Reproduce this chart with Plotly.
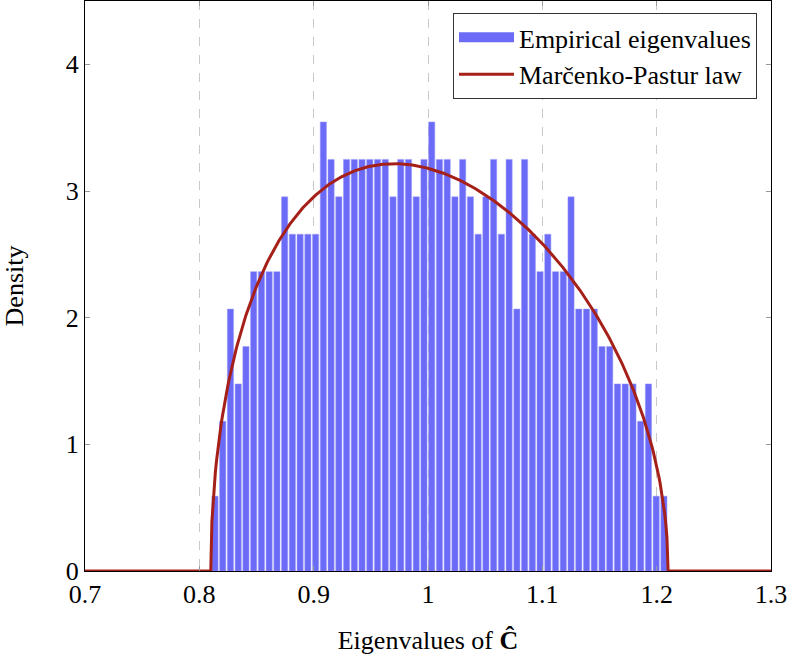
import numpy as np
import plotly.graph_objects as go

# ---- data ----
n_eigs = 500
bin_start = 0.8103
bin_width = 0.00677
bin_counts = [2, 4, 7, 5, 6, 8, 8, 8, 8, 10,
              9, 9, 9, 9, 12, 11, 10, 11, 11, 11,
              11, 11, 11, 10, 11, 11, 10, 11, 12, 11,
              11, 10, 11, 10, 9, 10, 11, 9, 11, 7,
              11, 9, 8, 9, 8, 8, 10, 7, 7, 7,
              6, 6, 5, 5, 5, 4, 5, 2, 2]
mp_ratio = 0.01          # c = p/n for Marcenko-Pastur law
x_ticks = [0.7, 0.8, 0.9, 1.0, 1.1, 1.2, 1.3]
x_tick_labels = ["0.7", "0.8", "0.9", "1", "1.1", "1.2", "1.3"]
y_ticks = [0, 1, 2, 3, 4]
y_tick_labels = ["0", "1", "2", "3", "4"]

centers = [bin_start + (i + 0.5) * bin_width for i in range(len(bin_counts))]
density = [c / (n_eigs * bin_width) for c in bin_counts]

# Marcenko-Pastur density
a = (1 - np.sqrt(mp_ratio)) ** 2
b = (1 + np.sqrt(mp_ratio)) ** 2
xin = np.linspace(a, b, 400)
yin = np.sqrt(np.clip((b - xin) * (xin - a), 0, None)) / (2 * np.pi * mp_ratio * xin)
xs = np.concatenate([[0.7, a - 0.002], xin, [b + 0.002, 1.3]])
ys = np.concatenate([[0, 0], yin, [0, 0]])

font_family = "Liberation Serif"
bar_color = "#6b6bf8"

fig = go.Figure()
fig.add_trace(go.Bar(
    x=centers, y=density, width=bin_width * 0.8,
    marker=dict(color=bar_color, line=dict(color="#9a9afa", width=0.5)),
    name="Empirical eigenvalues", showlegend=False,
))
# legend entry drawn as a wide filled swatch
fig.add_trace(go.Scatter(
    x=[None], y=[None], mode="lines",
    line=dict(color=bar_color, width=15),
    name="Empirical eigenvalues",
))
fig.add_trace(go.Scatter(
    x=xs, y=ys, mode="lines",
    line=dict(color="#a52019", width=3),
    name="Marčenko-Pastur law",
))

fig.update_layout(
    width=791, height=661,
    margin=dict(l=85, r=20, t=1, b=90),
    plot_bgcolor="white", paper_bgcolor="white",
    font=dict(family=font_family, size=26, color="black"),
    showlegend=True,
    legend=dict(
        x=0.9796, y=0.979, xanchor="right", yanchor="top",
        bordercolor="#333", borderwidth=1, bgcolor="white",
        font=dict(family=font_family, size=26),
        itemwidth=55,
        tracegroupgap=0,
    ),
    xaxis=dict(
        range=[0.7, 1.3], tickvals=x_ticks, ticktext=x_tick_labels,
        showline=True, mirror="allticks", linecolor="black", linewidth=1,
        ticks="inside", ticklen=5, tickcolor="#999",
        showgrid=True, gridcolor="#c8c8c8", griddash="dash", gridwidth=1,
        zeroline=False, automargin=False,
        title=dict(text="Eigenvalues of <b>Ĉ</b>", font=dict(family=font_family, size=26), standoff=22),
    ),
    yaxis=dict(
        range=[0, 4.5], tickvals=y_ticks, ticktext=y_tick_labels,
        showline=True, mirror="allticks", linecolor="black", linewidth=1,
        ticks="inside", ticklen=5, tickcolor="#999",
        showgrid=False, zeroline=False, automargin=False,
        title=dict(text="Density", font=dict(family=font_family, size=26), standoff=34),
    ),
)

fig.write_html("out.html", config={"displayModeBar": False},
               post_script="document.body.style.margin='0';")
